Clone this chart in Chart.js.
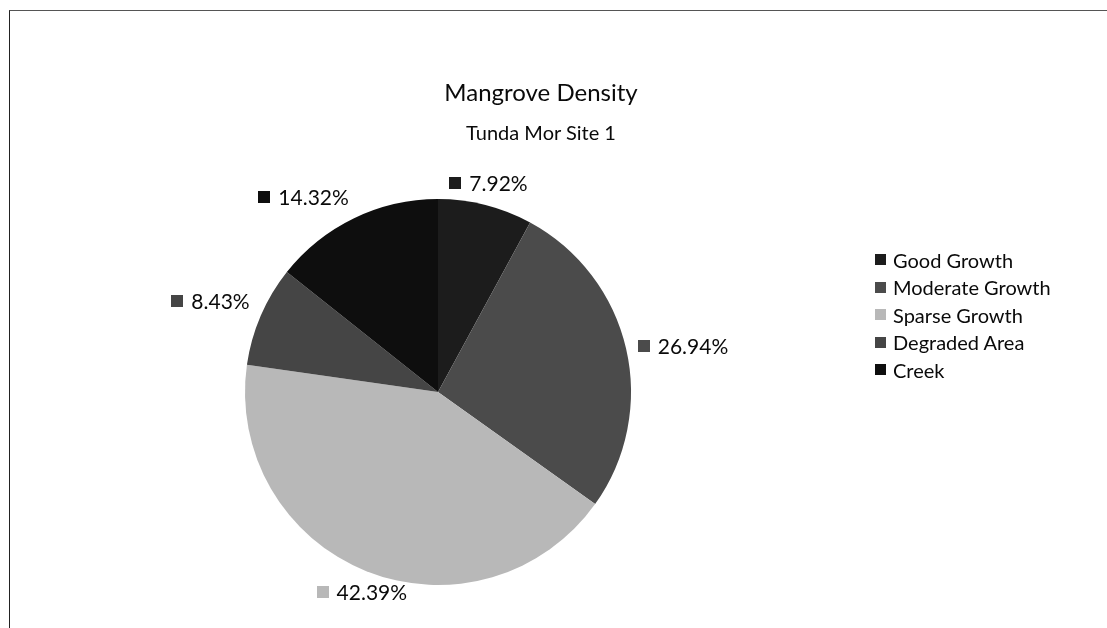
<!DOCTYPE html>
<html>
<head>
<meta charset="utf-8">
<script src="https://cdn.jsdelivr.net/npm/chart.js@4/dist/chart.umd.min.js"></script>
<style>
  html, body { margin: 0; padding: 0; background: #fff; }
  #wrap { position: relative; width: 1107px; height: 628px; overflow: hidden; font-family: Lato, "Open Sans", sans-serif; color: #0a0a0a; }
  #frame { position: absolute; left: 9px; top: 10px; right: -5px; bottom: -5px; border-top: 1px solid #555; border-left: 1px solid #222; }
  #c { position: absolute; left: 0; top: 0; }
  .title { position: absolute; left: 0; width: 1082px; text-align: center; white-space: nowrap; }
  #t1 { top: 77px; font-size: 24px; line-height: 30px; }
  #t2 { top: 120px; font-size: 20px; line-height: 24px; }
  #legend { position: absolute; left: 875px; top: 246px; }
  .li { display: flex; align-items: center; height: 27.5px; font-size: 20px; white-space: nowrap; }
  .sw { width: 11px; height: 11px; margin-right: 7px; display: inline-block; }
</style>
</head>
<body>
<div id="wrap">
  <canvas id="c" width="1107" height="628"></canvas>
  <div id="frame"></div>
  <div class="title" id="t1"></div>
  <div class="title" id="t2"></div>
  <div id="legend"></div>
</div>
<script>
const chartTitle = "Mangrove Density";
const chartSubtitle = "Tunda Mor Site 1";
const categories = ["Good Growth", "Moderate Growth", "Sparse Growth", "Degraded Area", "Creek"];
const percentValues = [7.92, 26.94, 42.39, 8.43, 14.32];
const sliceColors = ["#1c1c1c", "#4b4b4b", "#b8b8b8", "#454545", "#0e0e0e"];

document.getElementById('t1').textContent = chartTitle;
document.getElementById('t2').textContent = chartSubtitle;
const legendEl = document.getElementById('legend');
categories.forEach((name, i) => {
  const row = document.createElement('div');
  row.className = 'li';
  const sw = document.createElement('span');
  sw.className = 'sw';
  sw.style.background = sliceColors[i];
  row.appendChild(sw);
  row.appendChild(document.createTextNode(name));
  legendEl.appendChild(row);
});

// Outside-end labels: the label box touches a point just outside the arc on the
// slice's middle ray, aligned by the side of the pie it sits on.
const labelPlugin = {
  id: 'outsideLabels',
  afterDatasetsDraw(chart) {
    const ctx = chart.ctx;
    const meta = chart.getDatasetMeta(0);
    const data = chart.data.datasets[0].data;
    ctx.save();
    ctx.font = '21px Lato, "Open Sans", sans-serif';
    ctx.textBaseline = 'middle';
    ctx.textAlign = 'left';
    meta.data.forEach((arc, i) => {
      const p = arc.getProps(['x', 'y', 'startAngle', 'endAngle', 'outerRadius'], true);
      const mid = (p.startAngle + p.endAngle) / 2;
      const dx = Math.cos(mid), dy = Math.sin(mid);
      const txt = data[i].toFixed(2) + '%';
      const sw = 12, gap = 8;
      const w = sw + gap + ctx.measureText(txt).width;
      const h = 20;
      const R = p.outerRadius + 12;
      const ax = p.x + dx * R, ay = p.y + dy * R;
      let left;
      if (dx > 0.4) left = ax;
      else if (dx < -0.4) left = ax - w;
      else left = ax - w / 2;
      let cy;
      if (dy < -0.3) cy = ay - h / 2;
      else if (dy > 0.3) cy = ay + h / 2;
      else cy = ay;
      ctx.fillStyle = sliceColors[i];
      ctx.fillRect(Math.round(left), Math.round(cy - sw / 2), sw, sw);
      ctx.fillStyle = '#0a0a0a';
      ctx.fillText(txt, left + sw + gap, cy + 1);
    });
    ctx.restore();
  }
};

new Chart(document.getElementById('c'), {
  type: 'pie',
  data: {
    labels: categories,
    datasets: [{
      data: percentValues,
      backgroundColor: sliceColors,
      borderWidth: 0
    }]
  },
  options: {
    responsive: false,
    animation: false,
    layout: { padding: { top: 199, bottom: 43, left: 0, right: 231 } },
    plugins: {
      legend: { display: false },
      title: { display: false },
      tooltip: { enabled: false }
    }
  },
  plugins: [labelPlugin]
});
</script>
</body>
</html>
